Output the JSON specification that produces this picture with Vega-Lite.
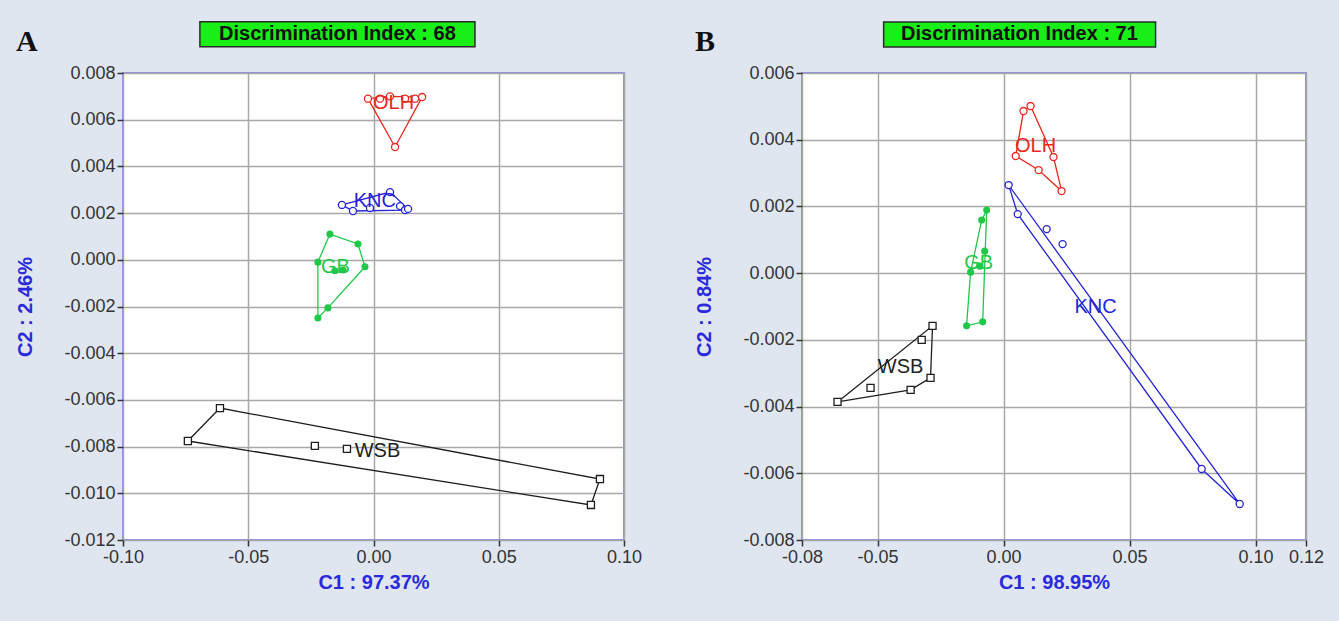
{
  "$schema": "https://vega.github.io/schema/vega-lite/v6.json",
  "padding": {"left": 14, "top": 19, "right": 20, "bottom": 40},
  "background": "#dfe6ef",
  "spacing": 50,
  "datasets": {
    "ptsA": [
      {"g": "OLH", "x": -0.0022, "y": 0.0069},
      {"g": "OLH", "x": 0.0026, "y": 0.0069},
      {"g": "OLH", "x": 0.0066, "y": 0.0070},
      {"g": "OLH", "x": 0.0126, "y": 0.0069},
      {"g": "OLH", "x": 0.0166, "y": 0.0069},
      {"g": "OLH", "x": 0.0194, "y": 0.00697},
      {"g": "OLH", "x": 0.0086, "y": 0.00483},
      {"g": "KNC", "x": -0.0126, "y": 0.00235},
      {"g": "KNC", "x": -0.0082, "y": 0.00209},
      {"g": "KNC", "x": -0.0014, "y": 0.00222},
      {"g": "KNC", "x": 0.0066, "y": 0.0029},
      {"g": "KNC", "x": 0.0106, "y": 0.0023},
      {"g": "KNC", "x": 0.0126, "y": 0.00213},
      {"g": "KNC", "x": 0.0138, "y": 0.00218},
      {"g": "GB", "x": -0.0174, "y": 0.0011},
      {"g": "GB", "x": -0.0062, "y": 0.00068},
      {"g": "GB", "x": -0.0034, "y": -0.0003},
      {"g": "GB", "x": -0.0222, "y": -0.0001},
      {"g": "GB", "x": -0.0154, "y": -0.00047},
      {"g": "GB", "x": -0.0122, "y": -0.00044},
      {"g": "GB", "x": -0.0182, "y": -0.00206},
      {"g": "GB", "x": -0.0222, "y": -0.00249},
      {"g": "WSB", "x": -0.0613, "y": -0.00635},
      {"g": "WSB", "x": -0.0741, "y": -0.00776},
      {"g": "WSB", "x": -0.0234, "y": -0.00797},
      {"g": "WSB", "x": -0.0106, "y": -0.0081},
      {"g": "WSB", "x": 0.0904, "y": -0.00939},
      {"g": "WSB", "x": 0.0868, "y": -0.0105}
    ],
    "hullA": [
      {"g": "OLH", "o": 1, "x": -0.0022, "y": 0.0069},
      {"g": "OLH", "o": 2, "x": 0.0066, "y": 0.0070},
      {"g": "OLH", "o": 3, "x": 0.0194, "y": 0.00697},
      {"g": "OLH", "o": 4, "x": 0.0086, "y": 0.00483},
      {"g": "OLH", "o": 5, "x": -0.0022, "y": 0.0069},
      {"g": "KNC", "o": 1, "x": -0.0126, "y": 0.00235},
      {"g": "KNC", "o": 2, "x": 0.0066, "y": 0.0029},
      {"g": "KNC", "o": 3, "x": 0.0138, "y": 0.00218},
      {"g": "KNC", "o": 4, "x": 0.0126, "y": 0.00213},
      {"g": "KNC", "o": 5, "x": -0.0082, "y": 0.00209},
      {"g": "KNC", "o": 6, "x": -0.0126, "y": 0.00235},
      {"g": "GB", "o": 1, "x": -0.0174, "y": 0.0011},
      {"g": "GB", "o": 2, "x": -0.0062, "y": 0.00068},
      {"g": "GB", "o": 3, "x": -0.0034, "y": -0.0003},
      {"g": "GB", "o": 4, "x": -0.0182, "y": -0.00206},
      {"g": "GB", "o": 5, "x": -0.0222, "y": -0.00249},
      {"g": "GB", "o": 6, "x": -0.0222, "y": -0.0001},
      {"g": "GB", "o": 7, "x": -0.0174, "y": 0.0011},
      {"g": "WSB", "o": 1, "x": -0.0741, "y": -0.00776},
      {"g": "WSB", "o": 2, "x": -0.0613, "y": -0.00635},
      {"g": "WSB", "o": 3, "x": 0.0904, "y": -0.00939},
      {"g": "WSB", "o": 4, "x": 0.0868, "y": -0.0105},
      {"g": "WSB", "o": 5, "x": -0.0741, "y": -0.00776}
    ],
    "labA": [
      {"g": "OLH", "x": 0.008, "y": 0.0067},
      {"g": "KNC", "x": 0.0005, "y": 0.00252},
      {"g": "GB", "x": -0.0152, "y": -0.0003},
      {"g": "WSB", "x": 0.0016, "y": -0.0082}
    ],
    "ptsB": [
      {"g": "OLH", "x": 0.0079, "y": 0.00486},
      {"g": "OLH", "x": 0.0107, "y": 0.00501},
      {"g": "OLH", "x": 0.0048, "y": 0.00351},
      {"g": "OLH", "x": 0.0198, "y": 0.00348},
      {"g": "OLH", "x": 0.0139, "y": 0.00309},
      {"g": "OLH", "x": 0.023, "y": 0.00246},
      {"g": "KNC", "x": 0.002, "y": 0.00264},
      {"g": "KNC", "x": 0.0056, "y": 0.00177},
      {"g": "KNC", "x": 0.0171, "y": 0.00132},
      {"g": "KNC", "x": 0.0234, "y": 0.00087},
      {"g": "KNC", "x": 0.0786, "y": -0.00587},
      {"g": "KNC", "x": 0.0937, "y": -0.00692},
      {"g": "GB", "x": -0.0067, "y": 0.00189},
      {"g": "GB", "x": -0.0087, "y": 0.00159},
      {"g": "GB", "x": -0.0075, "y": 0.00066},
      {"g": "GB", "x": -0.0095, "y": 0.00021},
      {"g": "GB", "x": -0.0131, "y": 0.00003},
      {"g": "GB", "x": -0.0147, "y": -0.00158},
      {"g": "GB", "x": -0.0083, "y": -0.00146},
      {"g": "WSB", "x": -0.0282, "y": -0.00158},
      {"g": "WSB", "x": -0.0325, "y": -0.002},
      {"g": "WSB", "x": -0.029, "y": -0.00314},
      {"g": "WSB", "x": -0.0369, "y": -0.0035},
      {"g": "WSB", "x": -0.0528, "y": -0.00344},
      {"g": "WSB", "x": -0.0659, "y": -0.00386}
    ],
    "hullB": [
      {"g": "OLH", "o": 1, "x": 0.0048, "y": 0.00351},
      {"g": "OLH", "o": 2, "x": 0.0079, "y": 0.00486},
      {"g": "OLH", "o": 3, "x": 0.0107, "y": 0.00501},
      {"g": "OLH", "o": 4, "x": 0.0198, "y": 0.00348},
      {"g": "OLH", "o": 5, "x": 0.023, "y": 0.00246},
      {"g": "OLH", "o": 6, "x": 0.0139, "y": 0.00309},
      {"g": "OLH", "o": 7, "x": 0.0048, "y": 0.00351},
      {"g": "KNC", "o": 1, "x": 0.002, "y": 0.00264},
      {"g": "KNC", "o": 2, "x": 0.0937, "y": -0.00692},
      {"g": "KNC", "o": 3, "x": 0.0786, "y": -0.00587},
      {"g": "KNC", "o": 4, "x": 0.0056, "y": 0.00177},
      {"g": "KNC", "o": 5, "x": 0.002, "y": 0.00264},
      {"g": "GB", "o": 1, "x": -0.0067, "y": 0.00189},
      {"g": "GB", "o": 2, "x": -0.0083, "y": -0.00146},
      {"g": "GB", "o": 3, "x": -0.0147, "y": -0.00158},
      {"g": "GB", "o": 4, "x": -0.0131, "y": 0.00003},
      {"g": "GB", "o": 5, "x": -0.0087, "y": 0.00159},
      {"g": "GB", "o": 6, "x": -0.0067, "y": 0.00189},
      {"g": "WSB", "o": 1, "x": -0.0659, "y": -0.00386},
      {"g": "WSB", "o": 2, "x": -0.0282, "y": -0.00158},
      {"g": "WSB", "o": 3, "x": -0.029, "y": -0.00314},
      {"g": "WSB", "o": 4, "x": -0.0369, "y": -0.0035},
      {"g": "WSB", "o": 5, "x": -0.0659, "y": -0.00386}
    ],
    "labB": [
      {"g": "OLH", "x": 0.0127, "y": 0.0038},
      {"g": "KNC", "x": 0.0365, "y": -0.001},
      {"g": "GB", "x": -0.0099, "y": 0.0003},
      {"g": "WSB", "x": -0.0409, "y": -0.0028}
    ],
    "boxA": [{"label": "Discrimination Index : 68"}],
    "boxB": [{"label": "Discrimination Index : 71"}]
  },
  "hconcat": [
    {
      "width": 501,
      "height": 467,
      "title": {"text": "A"},
      "layer": [
        {
          "data": {"name": "boxA"},
          "mark": {"type": "rect", "fill": "#17ef17", "stroke": "#2a2a2a", "strokeWidth": 1.5, "clip": false},
          "encoding": {
            "x": {"datum": -0.0693, "type": "quantitative", "scale": {"domain": [-0.1, 0.1], "nice": false, "zero": false}, "axis": {"values": [-0.1, -0.05, 0, 0.05, 0.1], "format": ".2f", "title": "C1 : 97.37%"}},
            "x2": {"datum": 0.0405},
            "y": {"datum": 0.0102, "type": "quantitative", "scale": {"domain": [-0.012, 0.008], "nice": false, "zero": false}, "axis": {"values": [-0.012, -0.01, -0.008, -0.006, -0.004, -0.002, 0, 0.002, 0.004, 0.006, 0.008], "format": ".3f", "title": "C2 : 2.46%"}},
            "y2": {"datum": 0.00912}
          }
        },
        {
          "data": {"name": "boxA"},
          "mark": {"type": "text", "font": "Liberation Sans", "fontSize": 20, "fontWeight": "bold", "color": "#111", "align": "center", "baseline": "middle", "clip": false},
          "encoding": {
            "x": {"datum": -0.0144, "type": "quantitative"},
            "y": {"datum": 0.00966, "type": "quantitative"},
            "text": {"field": "label"}
          }
        },
        {
          "data": {"name": "hullA"},
          "mark": {"type": "line", "strokeWidth": 1.3},
          "encoding": {
            "x": {"field": "x", "type": "quantitative", "scale": {"domain": [-0.1, 0.1], "nice": false, "zero": false}, "axis": {"values": [-0.1, -0.05, 0, 0.05, 0.1], "format": ".2f", "title": "C1 : 97.37%"}},
            "y": {"field": "y", "type": "quantitative", "scale": {"domain": [-0.012, 0.008], "nice": false, "zero": false}, "axis": {"values": [-0.012, -0.01, -0.008, -0.006, -0.004, -0.002, 0, 0.002, 0.004, 0.006, 0.008], "format": ".3f", "title": "C2 : 2.46%"}},
            "color": {"field": "g", "type": "nominal", "scale": {"domain": ["OLH", "KNC", "GB", "WSB"], "range": ["#e8281e", "#2424d8", "#20c84a", "#1e1e1e"]}, "legend": null},
            "order": {"field": "o", "type": "quantitative"}
          }
        },
        {
          "data": {"name": "ptsA"},
          "transform": [{"filter": "datum.g !== 'GB'"}],
          "mark": {"type": "point", "filled": false, "strokeWidth": 1.3, "size": 50, "fill": "white", "fillOpacity": 1},
          "encoding": {
            "x": {"field": "x", "type": "quantitative"},
            "y": {"field": "y", "type": "quantitative"},
            "shape": {"field": "g", "type": "nominal", "scale": {"domain": ["OLH", "KNC", "GB", "WSB"], "range": ["circle", "circle", "circle", "square"]}, "legend": null},
            "color": {"field": "g", "type": "nominal", "legend": null}
          }
        },
        {
          "data": {"name": "ptsA"},
          "transform": [{"filter": "datum.g === 'GB'"}],
          "mark": {"type": "point", "filled": true, "size": 50, "opacity": 1},
          "encoding": {
            "x": {"field": "x", "type": "quantitative"},
            "y": {"field": "y", "type": "quantitative"},
            "color": {"field": "g", "type": "nominal", "legend": null}
          }
        },
        {
          "data": {"name": "labA"},
          "mark": {"type": "text", "font": "Liberation Sans", "fontSize": 20, "align": "center", "baseline": "middle"},
          "encoding": {
            "x": {"field": "x", "type": "quantitative"},
            "y": {"field": "y", "type": "quantitative"},
            "text": {"field": "g"},
            "color": {"field": "g", "type": "nominal", "legend": null}
          }
        }
      ]
    },
    {
      "width": 504,
      "height": 467,
      "title": {"text": "B"},
      "layer": [
        {
          "data": {"name": "boxB"},
          "mark": {"type": "rect", "fill": "#17ef17", "stroke": "#2a2a2a", "strokeWidth": 1.5, "clip": false},
          "encoding": {
            "x": {"datum": -0.0476, "type": "quantitative", "scale": {"domain": [-0.08, 0.12], "nice": false, "zero": false}, "axis": {"values": [-0.08, -0.05, 0, 0.05, 0.1, 0.12], "format": ".2f", "title": "C1 : 98.95%"}},
            "x2": {"datum": 0.0603},
            "y": {"datum": 0.00753, "type": "quantitative", "scale": {"domain": [-0.008, 0.006], "nice": false, "zero": false}, "axis": {"values": [-0.008, -0.006, -0.004, -0.002, 0, 0.002, 0.004, 0.006], "format": ".3f", "title": "C2 : 0.84%"}},
            "y2": {"datum": 0.00678}
          }
        },
        {
          "data": {"name": "boxB"},
          "mark": {"type": "text", "font": "Liberation Sans", "fontSize": 20, "fontWeight": "bold", "color": "#111", "align": "center", "baseline": "middle", "clip": false},
          "encoding": {
            "x": {"datum": 0.0063, "type": "quantitative"},
            "y": {"datum": 0.00716, "type": "quantitative"},
            "text": {"field": "label"}
          }
        },
        {
          "data": {"name": "hullB"},
          "mark": {"type": "line", "strokeWidth": 1.3},
          "encoding": {
            "x": {"field": "x", "type": "quantitative", "scale": {"domain": [-0.08, 0.12], "nice": false, "zero": false}, "axis": {"values": [-0.08, -0.05, 0, 0.05, 0.1, 0.12], "format": ".2f", "title": "C1 : 98.95%"}},
            "y": {"field": "y", "type": "quantitative", "scale": {"domain": [-0.008, 0.006], "nice": false, "zero": false}, "axis": {"values": [-0.008, -0.006, -0.004, -0.002, 0, 0.002, 0.004, 0.006], "format": ".3f", "title": "C2 : 0.84%"}},
            "color": {"field": "g", "type": "nominal", "scale": {"domain": ["OLH", "KNC", "GB", "WSB"], "range": ["#e8281e", "#2424d8", "#20c84a", "#1e1e1e"]}, "legend": null},
            "order": {"field": "o", "type": "quantitative"}
          }
        },
        {
          "data": {"name": "ptsB"},
          "transform": [{"filter": "datum.g !== 'GB'"}],
          "mark": {"type": "point", "filled": false, "strokeWidth": 1.3, "size": 50, "fill": "white", "fillOpacity": 1},
          "encoding": {
            "x": {"field": "x", "type": "quantitative"},
            "y": {"field": "y", "type": "quantitative"},
            "shape": {"field": "g", "type": "nominal", "scale": {"domain": ["OLH", "KNC", "GB", "WSB"], "range": ["circle", "circle", "circle", "square"]}, "legend": null},
            "color": {"field": "g", "type": "nominal", "legend": null}
          }
        },
        {
          "data": {"name": "ptsB"},
          "transform": [{"filter": "datum.g === 'GB'"}],
          "mark": {"type": "point", "filled": true, "size": 50, "opacity": 1},
          "encoding": {
            "x": {"field": "x", "type": "quantitative"},
            "y": {"field": "y", "type": "quantitative"},
            "color": {"field": "g", "type": "nominal", "legend": null}
          }
        },
        {
          "data": {"name": "labB"},
          "mark": {"type": "text", "font": "Liberation Sans", "fontSize": 20, "align": "center", "baseline": "middle"},
          "encoding": {
            "x": {"field": "x", "type": "quantitative"},
            "y": {"field": "y", "type": "quantitative"},
            "text": {"field": "g"},
            "color": {"field": "g", "type": "nominal", "legend": null}
          }
        }
      ]
    }
  ],
  "config": {
    "locale": {"number": {"decimal": ".", "thousands": ",", "grouping": [3], "currency": ["$", ""], "minus": "-"}},
    "view": {"fill": "white", "stroke": "#8c8cec", "strokeWidth": 2},
    "axis": {
      "grid": true, "gridColor": "#a8a8a8", "gridWidth": 1.5, "gridOpacity": 1,
      "domain": false, "tickColor": "#333", "tickSize": 6, "tickWidth": 1.5,
      "labelFont": "Liberation Sans", "labelFontSize": 18, "labelColor": "#333", "labelPadding": 2,
      "labelFlush": false, "labelOverlap": false,
      "titleFont": "Liberation Sans", "titleFontSize": 20, "titleFontWeight": "bold", "titleColor": "#2a2adc"
    },
    "axisY": {"titlePadding": 28},
    "axisX": {"titlePadding": 6},
    "title": {"font": "Liberation Serif", "fontSize": 30, "fontWeight": "bold", "anchor": "start", "frame": "bounds", "color": "#111", "offset": -36}
  }
}
